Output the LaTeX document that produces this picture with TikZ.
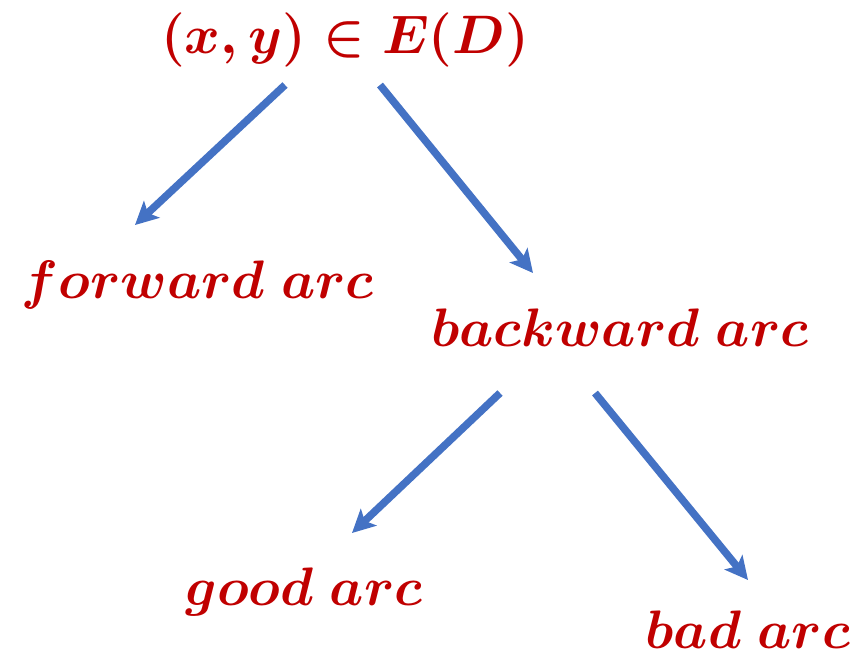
\documentclass[tikz,border=0pt]{standalone}
\usepackage{graphicx}
\usepackage{amsmath}
\usetikzlibrary{arrows.meta}
\definecolor{txtred}{HTML}{C00000}
\definecolor{arrblue}{HTML}{4472C4}
\newcommand{\biglbl}[1]{\scalebox{1.24}{\Huge\boldmath$#1$}}
\begin{document}
\begin{tikzpicture}[x=0.02cm,y=-0.02cm,
  lbl/.style={text=txtred,inner sep=0pt},
  conn/.style={draw=arrblue,line width=4.3pt,-{Stealth[length=13pt,width=13pt,inset=3pt]}}]
\useasboundingbox (0,0) rectangle (864,660);
\node[lbl] (top) at (345,40) {\biglbl{(x,y)\in E(D)}};
\node[lbl] (fwd) at (198,285) {\biglbl{forward\ arc}};
\node[lbl] (bwd) at (620,328) {\biglbl{backward\ arc}};
\node[lbl] (good) at (304,592) {\biglbl{good\ arc}};
\node[lbl] (bad) at (748,630) {\biglbl{bad\ arc}};
\coordinate (a1s) at (285,85); \coordinate (a1e) at (135,225);
\coordinate (a2s) at (380,85); \coordinate (a2e) at (533,273);
\coordinate (a3s) at (500,393); \coordinate (a3e) at (352,533);
\coordinate (a4s) at (595,393); \coordinate (a4e) at (748,580);
\draw[conn] (a1s) -- (a1e);
\draw[conn] (a2s) -- (a2e);
\draw[conn] (a3s) -- (a3e);
\draw[conn] (a4s) -- (a4e);
\end{tikzpicture}
\end{document}
